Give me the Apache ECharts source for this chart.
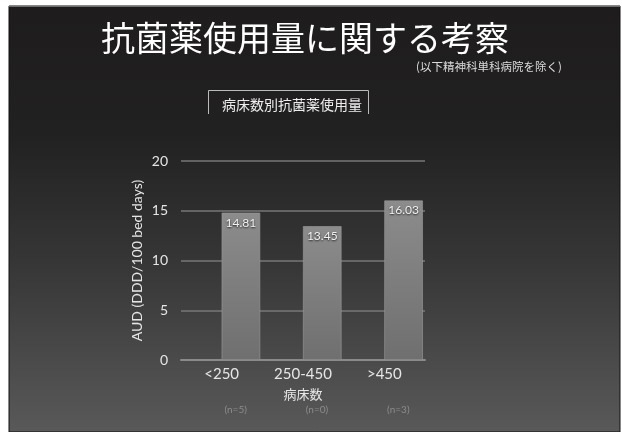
<!DOCTYPE html>
<html>
<head>
<meta charset="utf-8">
<style>
  html, body { margin: 0; padding: 0; background: #ffffff; }
  #chart { width: 622px; height: 432px; }
</style>
<script src="https://cdn.jsdelivr.net/npm/echarts@6/dist/echarts.min.js"></script>
</head>
<body>
<div id="chart"></div>
<script>
// Bed-count groups and antimicrobial use (AUD, DDD/100 bed days)
const categories = ['<250', '250-450', '>450'];
const audValues = [14.81, 13.45, 16.03];
const groupCounts = ['(n=5)', '(n=0)', '(n=3)'];
const yTicks = { min: 0, max: 20, interval: 5 };

const jp = '"Noto Sans CJK JP", "Noto Sans", sans-serif';
const num = 'Lato, "Liberation Sans", sans-serif';

const chart = echarts.init(document.getElementById('chart'), null, { renderer: 'canvas' });

chart.setOption({
  backgroundColor: '#ffffff',
  animation: false,
  graphic: [
    {
      // slide backdrop
      type: 'rect', z: -10, silent: true,
      shape: { x: 9, y: 6, width: 611, height: 426 },
      style: {
        fill: new echarts.graphic.LinearGradient(0, 0, 0, 1, [
          { offset: 0, color: '#1e1c1d' },
          { offset: 0.3, color: '#222122' },
          { offset: 0.6, color: '#363636' },
          { offset: 1, color: '#595959' }
        ]),
        stroke: '#111', lineWidth: 1
      }
    },
    {
      type: 'line', z: -9, silent: true,
      shape: { x1: 9, y1: 6, x2: 620, y2: 6 },
      style: { stroke: '#8a8a8a', lineWidth: 1.5 }
    },
    {
      // open frame around the chart caption
      type: 'polyline', silent: true,
      shape: { points: [[208.5, 114], [208.5, 90.5], [368.5, 90.5], [368.5, 114]] },
      style: { stroke: '#bbbbbb', lineWidth: 1, fill: null }
    }
  ],
  title: [
    {
      text: '抗菌薬使用量に関する考察',
      left: 96, top: 16,
      textStyle: { color: '#ffffff', fontSize: 34, fontWeight: 'normal', fontFamily: jp }
    },
    {
      text: '(以下精神科単科病院を除く)',
      left: 411, top: 56,
      textStyle: { color: '#dddddd', fontSize: 11.5, fontWeight: 'normal', fontFamily: jp }
    },
    {
      text: '病床数別抗菌薬使用量',
      left: 217, top: 93,
      textStyle: { color: '#eeeeee', fontSize: 14, fontWeight: 'normal', fontFamily: jp }
    }
  ],
  grid: { left: 181, right: 197, top: 161, bottom: 72 },
  xAxis: [
    {
      type: 'category',
      data: categories,
      axisLine: { lineStyle: { color: '#8a8a8a', width: 2 } },
      axisTick: { show: false },
      axisLabel: { color: '#e6e6e6', fontSize: 15, fontFamily: num, margin: 7 },
      name: '病床数',
      nameLocation: 'middle',
      nameGap: 28,
      nameTextStyle: { color: '#e6e6e6', fontSize: 13, fontFamily: jp }
    },
    {
      type: 'category',
      data: groupCounts,
      position: 'bottom',
      offset: 42,
      axisLine: { show: false },
      axisTick: { show: false },
      axisLabel: { color: '#8c8c8c', fontSize: 10, fontFamily: num, margin: 3, padding: [0, 0, 0, 28] }
    }
  ],
  yAxis: {
    type: 'value',
    min: yTicks.min, max: yTicks.max, interval: yTicks.interval,
    axisLine: { show: false },
    axisTick: { show: false },
    splitLine: { lineStyle: { color: '#777777', width: 1.5 } },
    axisLabel: { color: '#e6e6e6', fontSize: 14, fontFamily: num, margin: 13 },
    name: 'AUD (DDD/100 bed days)',
    nameLocation: 'middle',
    nameRotate: 90,
    nameGap: 37,
    nameTextStyle: { color: '#e6e6e6', fontSize: 14, fontFamily: num }
  },
  series: [
    {
      // empty slot so each bar sits right of its category label
      type: 'bar',
      data: categories.map(() => null),
      barWidth: 38.5,
      barGap: 0,
      silent: true
    },
    {
      type: 'bar',
      data: audValues,
      barWidth: 38.5,
      barGap: 0,
      itemStyle: {
        color: new echarts.graphic.LinearGradient(0, 0, 0, 1, [
          { offset: 0, color: '#8c8c8c' },
          { offset: 1, color: '#6f6f6f' }
        ]),
        borderColor: '#9a9a9a',
        borderWidth: 0.6
      },
      label: {
        show: true,
        position: 'insideTop',
        distance: 4,
        color: '#f2f2f2',
        fontSize: 12,
        fontFamily: num,
        textShadowColor: 'rgba(0,0,0,0.8)',
        textShadowBlur: 2,
        textShadowOffsetY: 1,
        formatter: p => p.value.toFixed(2)
      }
    }
  ]
});
</script>
</body>
</html>
